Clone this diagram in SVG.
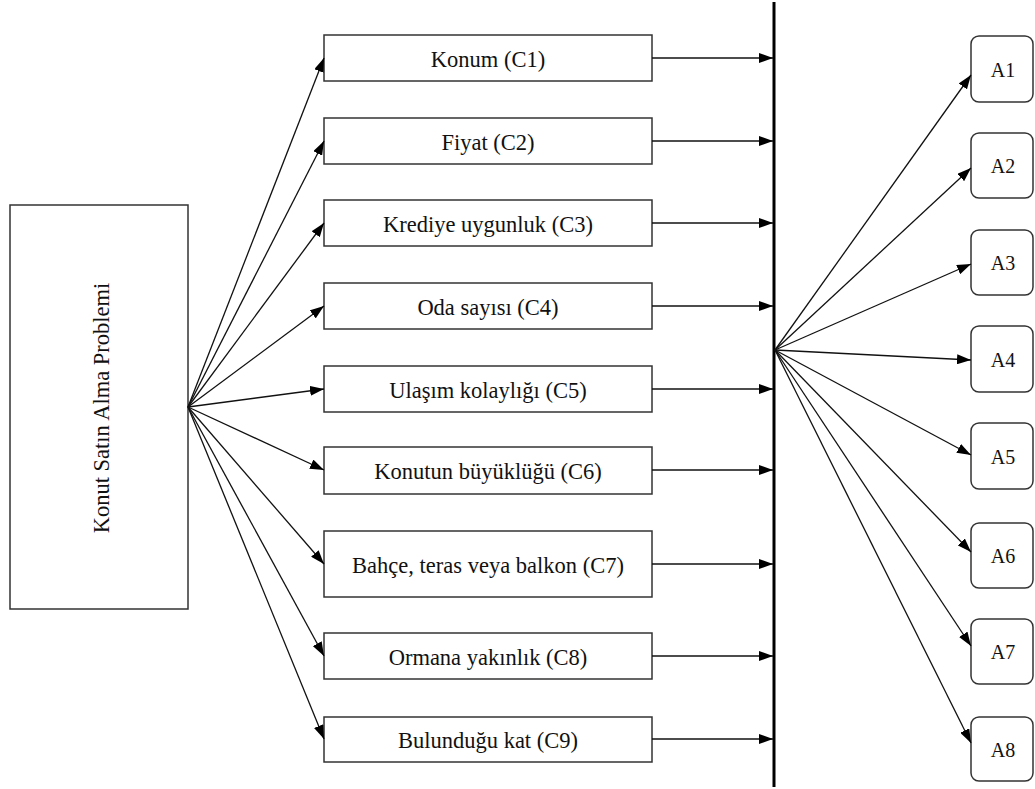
<svg xmlns="http://www.w3.org/2000/svg" width="1035" height="789" viewBox="0 0 1035 789">
<defs>
<marker id="ah" markerWidth="14" markerHeight="10" refX="14" refY="5" orient="auto" markerUnits="userSpaceOnUse">
<path d="M0,0 L14,5 L0,10 z" fill="#000"/>
</marker>
<style>
.box{fill:#fff;stroke:#333;stroke-width:1.5}
.t{font-family:"Liberation Serif","Times New Roman",serif;font-size:22.5px;fill:#111;text-anchor:middle;dominant-baseline:central}
.a{font-size:20px}
.c line{stroke:#111;stroke-width:1.3;marker-end:url(#ah)}
</style>
</defs>
<rect width="1035" height="789" fill="#fff"/>
<g id="root">
<rect class="box" x="10" y="205" width="178" height="404"/>
<text class="t" transform="translate(101,408) rotate(-90)">Konut Satın Alma Problemi</text>
</g>
<g id="C1"><rect class="box" x="324" y="35" width="328" height="46"/><text class="t" x="488" y="59">Konum (C1)</text></g>
<g id="C2"><rect class="box" x="324" y="118" width="328" height="46"/><text class="t" x="488" y="142">Fiyat (C2)</text></g>
<g id="C3"><rect class="box" x="324" y="200" width="328" height="46"/><text class="t" x="488" y="224">Krediye uygunluk (C3)</text></g>
<g id="C4"><rect class="box" x="324" y="283" width="328" height="46"/><text class="t" x="488" y="307">Oda sayısı (C4)</text></g>
<g id="C5"><rect class="box" x="324" y="366" width="328" height="46"/><text class="t" x="488" y="390">Ulaşım kolaylığı (C5)</text></g>
<g id="C6"><rect class="box" x="324" y="447" width="328" height="47"/><text class="t" x="488" y="471">Konutun büyüklüğü (C6)</text></g>
<g id="C7"><rect class="box" x="324" y="531" width="328" height="66"/><text class="t" x="488" y="565">Bahçe, teras veya balkon (C7)</text></g>
<g id="C8"><rect class="box" x="324" y="633" width="328" height="46"/><text class="t" x="488" y="657">Ormana yakınlık (C8)</text></g>
<g id="C9"><rect class="box" x="324" y="717" width="328" height="45"/><text class="t" x="488" y="740">Bulunduğu kat (C9)</text></g>
<g id="bar"><line x1="774" y1="2" x2="774" y2="787" stroke="#000" stroke-width="3"/></g>
<g id="A1"><rect class="box" x="971" y="36" width="62" height="66" rx="8"/><text class="t a" x="1003" y="70">A1</text></g>
<g id="A2"><rect class="box" x="971" y="133" width="62" height="65" rx="8"/><text class="t a" x="1003" y="166">A2</text></g>
<g id="A3"><rect class="box" x="971" y="230" width="62" height="65" rx="8"/><text class="t a" x="1003" y="263">A3</text></g>
<g id="A4"><rect class="box" x="971" y="326" width="62" height="66" rx="8"/><text class="t a" x="1003" y="360">A4</text></g>
<g id="A5"><rect class="box" x="971" y="423" width="62" height="66" rx="8"/><text class="t a" x="1003" y="457">A5</text></g>
<g id="A6"><rect class="box" x="971" y="523" width="62" height="65" rx="8"/><text class="t a" x="1003" y="556">A6</text></g>
<g id="A7"><rect class="box" x="971" y="619" width="62" height="65" rx="8"/><text class="t a" x="1003" y="652">A7</text></g>
<g id="A8"><rect class="box" x="971" y="717" width="62" height="64" rx="8"/><text class="t a" x="1003" y="750">A8</text></g>
<g id="connectors" class="c">
<line x1="188" y1="407" x2="324" y2="58"/>
<line x1="188" y1="407" x2="324" y2="141"/>
<line x1="188" y1="407" x2="324" y2="223"/>
<line x1="188" y1="407" x2="324" y2="306"/>
<line x1="188" y1="407" x2="324" y2="389"/>
<line x1="188" y1="407" x2="324" y2="470"/>
<line x1="188" y1="407" x2="324" y2="564"/>
<line x1="188" y1="407" x2="324" y2="656"/>
<line x1="188" y1="407" x2="324" y2="739"/>
<line x1="652" y1="58" x2="773" y2="58"/>
<line x1="652" y1="141" x2="773" y2="141"/>
<line x1="652" y1="223" x2="773" y2="223"/>
<line x1="652" y1="306" x2="773" y2="306"/>
<line x1="652" y1="389" x2="773" y2="389"/>
<line x1="652" y1="470" x2="773" y2="470"/>
<line x1="652" y1="564" x2="773" y2="564"/>
<line x1="652" y1="656" x2="773" y2="656"/>
<line x1="652" y1="739" x2="773" y2="739"/>
<line x1="775" y1="350" x2="971" y2="75"/>
<line x1="775" y1="350" x2="971" y2="168"/>
<line x1="775" y1="350" x2="971" y2="264"/>
<line x1="775" y1="350" x2="971" y2="360"/>
<line x1="775" y1="350" x2="971" y2="455"/>
<line x1="775" y1="350" x2="971" y2="552"/>
<line x1="775" y1="350" x2="971" y2="646"/>
<line x1="775" y1="350" x2="971" y2="743"/>
</g>
</svg>
